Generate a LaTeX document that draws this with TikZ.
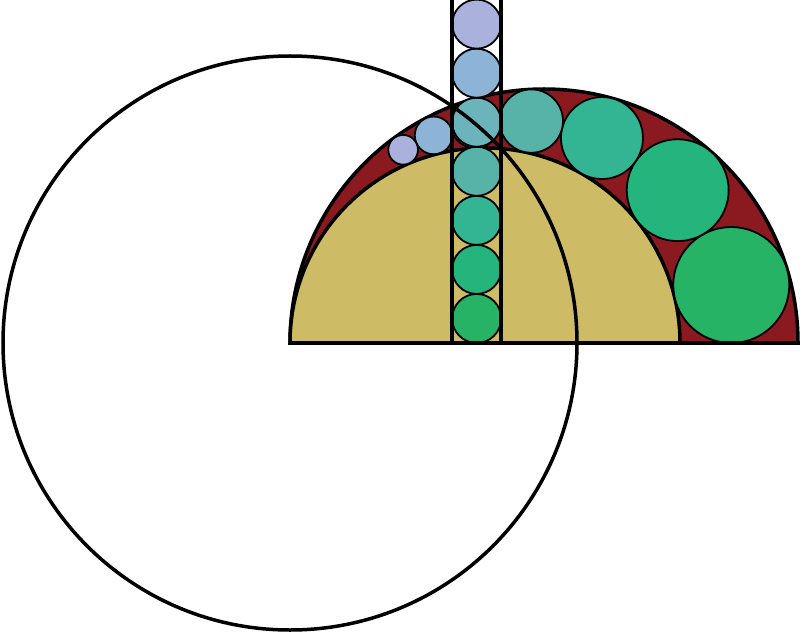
\documentclass[tikz,border=0pt]{standalone}
\definecolor{redc}{HTML}{8A1A20}
\definecolor{tanc}{HTML}{CDBC65}
\definecolor{c0}{HTML}{27B366}
\definecolor{c1}{HTML}{24B57D}
\definecolor{c2}{HTML}{33B594}
\definecolor{c3}{HTML}{57B3A7}
\definecolor{c4}{HTML}{6BB4BC}
\definecolor{c5}{HTML}{8DB4D6}
\definecolor{c6}{HTML}{A9B1DC}
\tikzset{
  bigline/.style={line width=3.5pt, draw=black},
  ball/.style={line width=1.8pt, draw=black},
}
\begin{document}
\begin{tikzpicture}[x=1pt,y=1pt]
\useasboundingbox (0,0) rectangle (800,633);
\begin{scope}
\clip (0,0) rectangle (800,633);
% arbelos
\filldraw[fill=redc, bigline] (290,290) arc (180:0:254) -- cycle;
\filldraw[fill=tanc, bigline] (290,290) arc (180:0:195) -- cycle;
% Pappus chain
\foreach \x/\y/\r/\c in {731.26/347.98/57.98/c0, 677.69/442.83/50.94/c1,
  601.96/494.97/40.99/c2, 531.28/511.93/31.70/c3, 475.29/509.13/24.35/c4,
  433.63/497.61/18.87/c5, 403.12/483.23/14.86/c6}
  \filldraw[ball, fill=\c] (\x,\y) circle (\r);
% strip circles
\foreach \y/\c in {314.53/c0, 363.59/c1, 412.65/c2, 461.71/c3, 510.77/c4, 559.82/c5, 608.88/c6}
  \filldraw[ball, fill=\c] (476.67,\y) circle (24.53);
% strip lines
\draw[bigline] (452.14,290) -- (452.14,640);
\draw[bigline] (501.20,290) -- (501.20,640);
% inversion circle
\draw[bigline] (290,290) circle (287);
% baseline
\draw[bigline] (290,290) -- (798,290);
\end{scope}
\end{tikzpicture}
\end{document}
